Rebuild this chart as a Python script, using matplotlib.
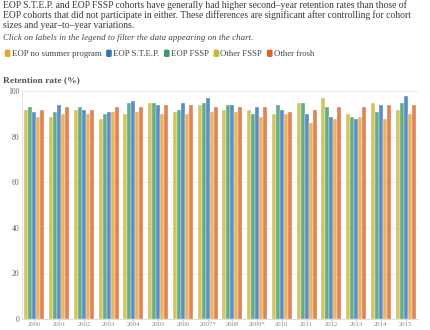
import matplotlib
matplotlib.use("Agg")
import matplotlib.pyplot as plt
from matplotlib.patches import FancyBboxPatch
import numpy as np

# Cohort labels (x axis)
cohorts = ["2000", "2001", "2002", "2003", "2004", "2005", "2006", "2007*",
           "2008", "2009*", "2010", "2011", "2012", "2013", "2014", "2015"]

# Second-year retention rates (%) by group
other_fssp = [92, 89, 92, 88, 90, 95, 91, 94, 92, 92, 90, 95, 97, 90, 95, 92]
eop_fssp = [93, 91, 93, 90, 95, 95, 92, 95, 94, 90, 94, 95, 93, 89, 91, 95]
eop_step = [91, 94, 92, 91, 96, 94, 95, 97, 94, 93, 92, 90, 89, 88, 94, 98]
eop_no_summer = [89, 90, 90, 91, 91, 90, 90, 91, 91, 89, 90, 86, 88, 89, 88, 90]
other_frosh = [92, 93, 92, 93, 93, 94, 94, 93, 93, 93, 91, 92, 93, 93, 94, 94]

legend_names = ["EOP no summer program", "EOP S.T.E.P.", "EOP FSSP", "Other FSSP", "Other frosh"]
c_nosummer = "#e8a23a"
c_step = "#3571b4"
c_fssp = "#3b9a6b"
c_other_fssp = "#c9b63c"
c_frosh = "#d8652c"
legend_colors = [c_nosummer, c_step, c_fssp, c_other_fssp, c_frosh]

serif = ["Liberation Serif", "DejaVu Serif"]
W, H = 430, 330
fig = plt.figure(figsize=(W / 100, H / 100), dpi=100)

def px(x, y):
    return x / W, 1 - y / H

# Intro text
intro = [
    "EOP S.T.E.P. and EOP FSSP cohorts have generally had higher second\u2013year retention rates than those of",
    "EOP cohorts that did not participate in either. These differences are significant after controlling for cohort",
    "sizes and year\u2013to\u2013year variations.",
]
for i, line in enumerate(intro):
    fig.text(*px(3, 7.5 + 10.4 * i), line, family=serif, fontsize=6.9, color="#3a3a3a", va="baseline")
fig.text(*px(3, 40.0), "Click on labels in the legend to filter the data appearing on the chart.",
         family=serif, fontsize=6.4, style="italic", color="#444444", va="baseline")

# Legend row
fig.canvas.draw()
renderer = fig.canvas.get_renderer()
x = 4.0
for name, col in zip(legend_names, legend_colors):
    sq = FancyBboxPatch(px(x + 0.8, 57.0), 5.6 / W, 7.4 / H, boxstyle="round,pad=0,rounding_size=0.004",
                        transform=fig.transFigure, facecolor=col, edgecolor="none")
    fig.patches.append(sq)
    t = fig.text(*px(x + 7.6, 56.0), name, family=serif, fontsize=6.3, color="#444444", va="baseline")
    bb = t.get_window_extent(renderer)
    x = x + 7.6 + bb.width + 4.0

fig.text(*px(3, 82.5), "Retention rate (%)", family=serif, fontsize=6.8, weight="bold",
         color="#555555", va="baseline")

# Chart
ax = fig.add_axes([22 / W, 11.0 / H, 396 / W, 227.5 / H])
series = [other_fssp, eop_fssp, eop_step, eop_no_summer, other_frosh]
colors = [c_other_fssp, c_fssp, c_step, c_nosummer, c_frosh]
xs = np.arange(len(cohorts))
bw = 0.163
for k, (vals, col) in enumerate(zip(series, colors)):
    ax.bar(xs + (k - 2) * bw, vals, width=bw, color=col, alpha=0.8,
           edgecolor="white", linewidth=0.3, zorder=3)

ax.set_xlim(-0.5, len(cohorts) - 0.5)
ax.set_ylim(0, 100)
ax.set_yticks([0, 20, 40, 60, 80, 100])
ax.set_yticklabels(["0", "20", "40", "60", "80", "100"], family=serif, fontsize=5.6, color="#666666")
ax.set_xticks(xs)
ax.set_xticklabels(cohorts, family=serif, fontsize=4.8, color="#888888")
ax.tick_params(axis="y", length=0, pad=2)
ax.tick_params(axis="x", length=1.5, color="#cccccc", pad=1.0)
ax.grid(axis="y", color="#eeeeee", linewidth=0.8, zorder=0)
for s in ["top", "right"]:
    ax.spines[s].set_visible(False)
ax.spines["left"].set_color("#e6e6e6")
ax.spines["left"].set_linewidth(0.8)
ax.spines["bottom"].set_color("#dddddd")
ax.spines["bottom"].set_linewidth(0.8)
ax.set_facecolor("none")

fig.savefig("out.png", dpi=100)
